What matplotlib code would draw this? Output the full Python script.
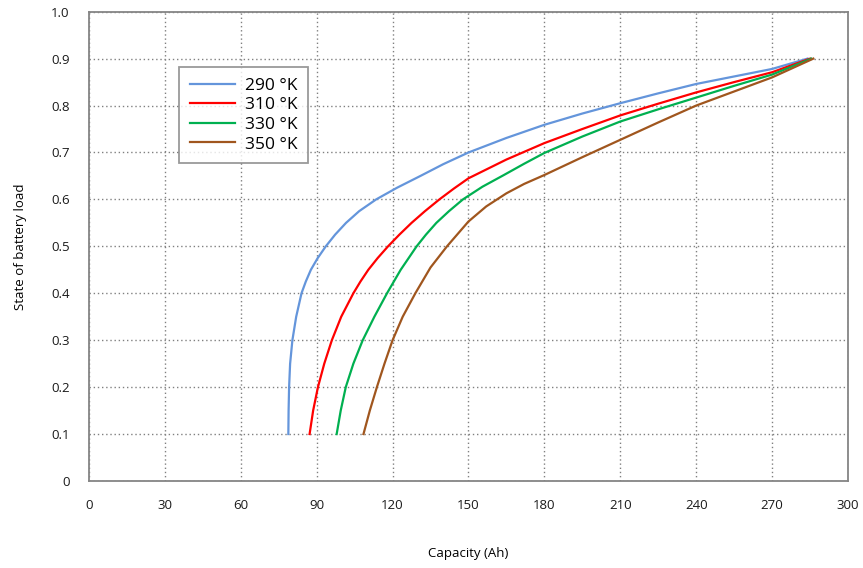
import matplotlib
matplotlib.use("Agg")
import matplotlib.pyplot as plt

# curves (capacity in Ah, state of battery load)
x_290 = [78.8, 78.9, 79.1, 79.5, 80.4, 81.9, 84.0, 85.7, 87.7, 90.4, 93.6, 97.3, 101.6, 106.8,
         113.5, 121.8, 131.0, 140.0, 150.0, 165.0, 180.0, 195.0, 210.0, 225.0, 240.0, 255.0,
         270.0, 284.0]
y_290 = [0.10, 0.15, 0.20, 0.25, 0.30, 0.35, 0.40, 0.425, 0.45, 0.475, 0.50, 0.525, 0.55, 0.575,
         0.60, 0.625, 0.65, 0.675, 0.70, 0.731, 0.759, 0.783, 0.805, 0.826, 0.846, 0.862,
         0.878, 0.90]

x_310 = [87.2, 88.6, 90.5, 93.0, 96.0, 99.7, 104.5, 107.3, 110.4, 114.1, 118.2, 122.7, 127.5,
         132.8, 138.5, 144.2, 150.0, 165.0, 180.0, 195.0, 210.0, 225.0, 240.0, 255.0, 270.0, 285.0]
y_310 = [0.10, 0.15, 0.20, 0.25, 0.30, 0.35, 0.40, 0.425, 0.45, 0.475, 0.50, 0.525, 0.55,
         0.575, 0.60, 0.623, 0.645, 0.685, 0.72, 0.75, 0.779, 0.804, 0.828, 0.85, 0.871, 0.90]

x_330 = [97.9, 99.5, 101.5, 104.5, 108.2, 112.8, 117.8, 123.2, 129.5, 133.2, 137.3, 142.3, 147.8,
         155.5, 164.0, 172.0, 180.0, 195.0, 210.0, 225.0, 240.0, 255.0, 270.0, 285.5]
y_330 = [0.10, 0.15, 0.20, 0.25, 0.30, 0.35, 0.40, 0.45, 0.50, 0.525, 0.55, 0.575, 0.60,
         0.627, 0.652, 0.676, 0.699, 0.734, 0.766, 0.792, 0.817, 0.842, 0.866, 0.90]

x_350 = [108.5, 111.0, 113.8, 116.8, 120.0, 124.0, 129.0, 135.0, 141.5, 150.0, 157.0,
         165.0, 172.0, 180.0, 195.0, 210.0, 225.0, 240.0, 255.0, 270.0, 286.3]
y_350 = [0.10, 0.15, 0.20, 0.25, 0.30, 0.35, 0.40, 0.455, 0.50, 0.553, 0.585,
         0.613, 0.633, 0.652, 0.69, 0.727, 0.764, 0.80, 0.83, 0.86, 0.90]

labels = ["290 °K", "310 °K", "330 °K", "350 °K"]
colors = ["#6495DB", "#FF0000", "#00B050", "#A0561E"]

x_ticks = list(range(0, 301, 30))
y_ticks = [0, 0.1, 0.2, 0.3, 0.4, 0.5, 0.6, 0.7, 0.8, 0.9, 1.0]
y_ticklabels = ["0", "0.1", "0.2", "0.3", "0.4", "0.5", "0.6", "0.7", "0.8", "0.9", "1.0"]

plt.rcParams["font.family"] = ["Open Sans", "DejaVu Sans"]

fig = plt.figure(figsize=(8.63, 5.68), dpi=100)
ax = fig.add_axes([0.1031, 0.1532, 0.8795, 0.8262])

for xs, ys, lab, c in zip([x_290, x_310, x_330, x_350], [y_290, y_310, y_330, y_350], labels, colors):
    ax.plot(xs, ys, color=c, lw=1.6, label=lab, solid_joinstyle="round")

ax.set_xlim(0, 300)
ax.set_ylim(0, 1.0)
ax.set_xticks(x_ticks)
ax.set_yticks(y_ticks)
ax.set_yticklabels(y_ticklabels)
ax.tick_params(length=0, labelsize=9.5, colors="#1a1a1a")
ax.tick_params(axis="x", pad=13)
ax.tick_params(axis="y", pad=14)

ax.grid(True, color="#808080", linestyle=(0, (1, 2)), lw=1.0)
for s in ax.spines.values():
    s.set_color("#858585")
    s.set_linewidth(1.3)

ax.set_xlabel("Capacity (Ah)", fontsize=9.5, labelpad=25)
ax.set_ylabel("State of battery load", fontsize=9.5, labelpad=17)

leg = ax.legend(loc="upper left", bbox_to_anchor=(0.119, 0.882), fontsize=12.5,
                frameon=True, fancybox=False, handlelength=2.6, handletextpad=0.6,
                borderpad=0.6, labelspacing=0.2, borderaxespad=0)
leg.get_frame().set_edgecolor("#808080")
leg.get_frame().set_linewidth(1.3)

fig.savefig("out.png", dpi=100)
